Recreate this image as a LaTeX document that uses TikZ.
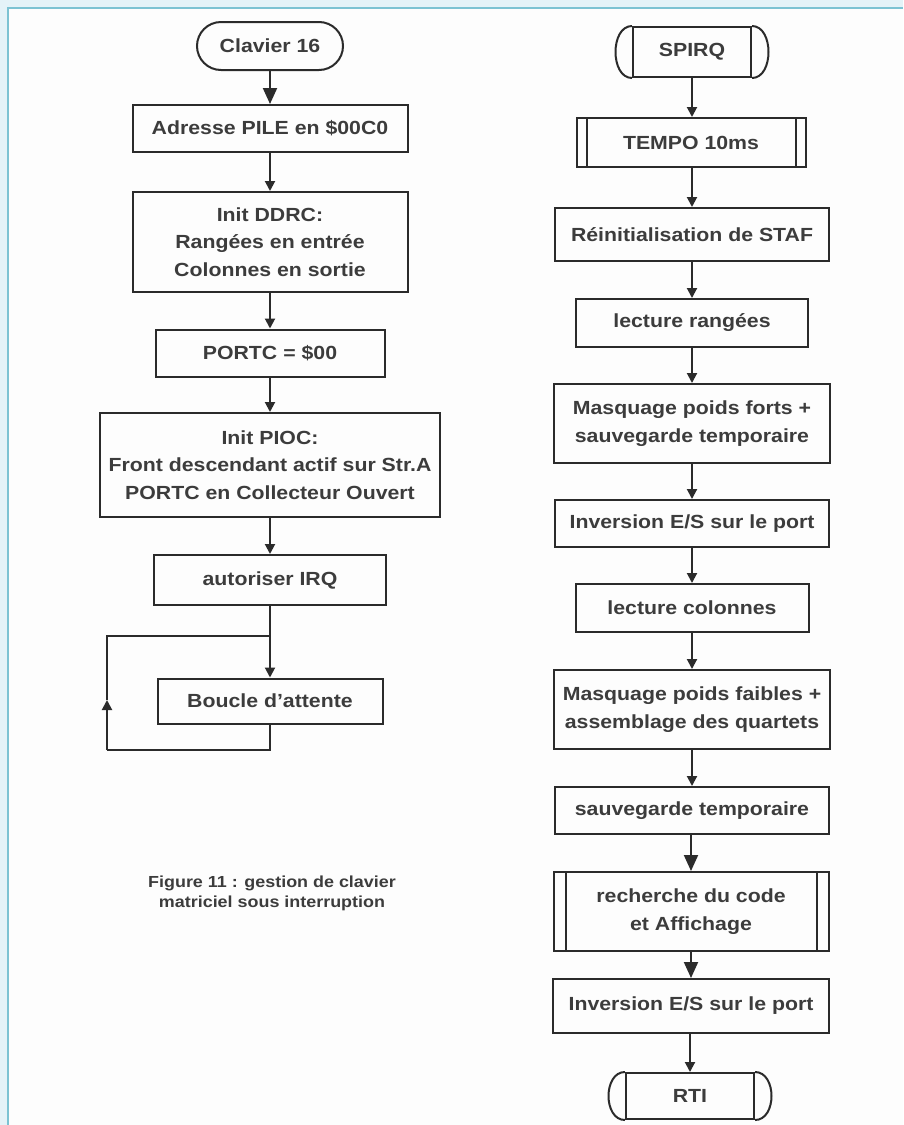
\documentclass[tikz,border=0pt]{standalone}
\usepackage{fontspec}
\setmainfont{Liberation Sans}[FakeStretch=1.12]
\usetikzlibrary{arrows.meta}
\definecolor{ink}{HTML}{2B2B2B}
\definecolor{txt}{HTML}{3C3C3C}
\definecolor{frameblue}{HTML}{7CC3D3}
\definecolor{outerblue}{HTML}{E4F3F8}
\definecolor{paper}{HTML}{FDFDFD}
\tikzset{
  box/.style={draw=ink, line width=2pt, text=txt, align=center, inner sep=0pt,
    font=\bfseries\fontsize{19}{27.5}\selectfont},
  term/.style={box, rounded corners=24pt},
  flow/.style={draw=ink, line width=2pt, -{Triangle[width=10pt,length=10pt]}},
  bigflow/.style={draw=ink, line width=2pt, -{Triangle[width=14pt,length=16pt]}},
  plain/.style={draw=ink, line width=2pt},
}
\begin{document}
\begin{tikzpicture}[x=1pt,y=-1pt]
\useasboundingbox (0,0) rectangle (903,1125);
\fill[outerblue] (0,0) rectangle (903,1125);
\fill[paper] (8,8) rectangle (903,1125);
\draw[frameblue, line width=2pt] (8,1125) -- (8,8) -- (903,8);

% left column
\node[term, minimum width=146pt, minimum height=48pt] (clav) at (270,46) {Clavier 16};
\node[box, minimum width=275pt, minimum height=47pt] (adr) at (270,128.5) {Adresse PILE en \$00C0};
\node[box, minimum width=275pt, minimum height=100pt] (ddrc) at (270,242) {Init DDRC:\\Rangées en entrée\\Colonnes en sortie};
\node[box, minimum width=229pt, minimum height=47pt] (portc) at (270,353) {PORTC = \$00};
\node[box, minimum width=340pt, minimum height=104pt] (pioc) at (270,465) {Init PIOC:\\Front descendant actif sur Str.A\\PORTC en Collecteur Ouvert};
\node[box, minimum width=232pt, minimum height=50pt] (irq) at (270,580) {autoriser IRQ};
\node[box, minimum width=225pt, minimum height=45pt] (boucle) at (270,701) {Boucle d'attente};

\draw[bigflow] (clav) -- (adr);
\draw[flow] (adr) -- (ddrc);
\draw[flow] (ddrc) -- (portc);
\draw[flow] (portc) -- (pioc);
\draw[flow] (pioc) -- (irq);
\draw[flow] (irq) -- (boucle);

\coordinate (jn) at (270,636);
\coordinate (lt) at (107,636);
\coordinate (lm) at (107,700);
\coordinate (lb) at (107,750);
\coordinate (rb) at (270,750);
\draw[plain] (boucle.south) -- (rb) -- (lb);
\draw[flow] (lb) -- (lm);
\draw[plain] (lm) -- (lt) -- (jn);

\node[text=txt, align=center, font=\bfseries\fontsize{16}{20}\selectfont] (cap) at (272,893)
  {Figure 11 : gestion de clavier\\matriciel sous interruption};

% right column
\node[box, minimum width=118pt, minimum height=50pt] (spirq) at (692,52) {SPIRQ};
\node[box, minimum width=229pt, minimum height=49pt] (tempo) at (691,142.5) {TEMPO 10ms};
\node[box, minimum width=274pt, minimum height=53pt] (reinit) at (692,234.5) {Réinitialisation de STAF};
\node[box, minimum width=232pt, minimum height=48pt] (lectr) at (692,323) {lecture rangées};
\node[box, minimum width=276pt, minimum height=79pt] (masqf) at (692,423.5) {Masquage poids forts +\\sauvegarde temporaire};
\node[box, minimum width=274pt, minimum height=47pt] (inv1) at (692,523.5) {Inversion E/S sur le port};
\node[box, minimum width=233pt, minimum height=48pt] (lectc) at (692,608) {lecture colonnes};
\node[box, minimum width=276pt, minimum height=79pt] (masqfa) at (692,709.5) {Masquage poids faibles +\\assemblage des quartets};
\node[box, minimum width=274pt, minimum height=47pt] (sauv) at (692,810.5) {sauvegarde temporaire};
\node[box, minimum width=275pt, minimum height=79pt] (rech) at (691,911.5) {recherche du code\\et Affichage};
\node[box, minimum width=276pt, minimum height=54pt] (inv2) at (691,1006) {Inversion E/S sur le port};
\node[box, minimum width=128pt, minimum height=46pt] (rti) at (690,1096) {RTI};

% terminal arcs
\foreach \n in {spirq,rti}{
  \draw[plain] (\n.north west) .. controls ([xshift=-22pt]\n.north west) and ([xshift=-22pt]\n.south west) .. (\n.south west);
  \draw[plain] (\n.north east) .. controls ([xshift=22pt]\n.north east) and ([xshift=22pt]\n.south east) .. (\n.south east);
}
% predefined process bars
\draw[plain] ([xshift=11pt]tempo.north west) -- ([xshift=11pt]tempo.south west);
\draw[plain] ([xshift=-11pt]tempo.north east) -- ([xshift=-11pt]tempo.south east);
\draw[plain] ([xshift=13pt]rech.north west) -- ([xshift=13pt]rech.south west);
\draw[plain] ([xshift=-13pt]rech.north east) -- ([xshift=-13pt]rech.south east);

\draw[flow] (spirq) -- (spirq |- tempo.north);
\draw[flow] (tempo.south -| spirq) -- (spirq |- reinit.north);
\draw[flow] (reinit.south -| spirq) -- (spirq |- lectr.north);
\draw[flow] (lectr) -- (masqf);
\draw[flow] (masqf) -- (inv1);
\draw[flow] (inv1) -- (lectc);
\draw[flow] (lectc) -- (masqfa);
\draw[flow] (masqfa) -- (sauv);
\draw[bigflow] (sauv.south -| rech) -- (rech);
\draw[bigflow] (rech) -- (inv2);
\draw[flow] (inv2.south -| rti) -- (rti);
\end{tikzpicture}
\end{document}
